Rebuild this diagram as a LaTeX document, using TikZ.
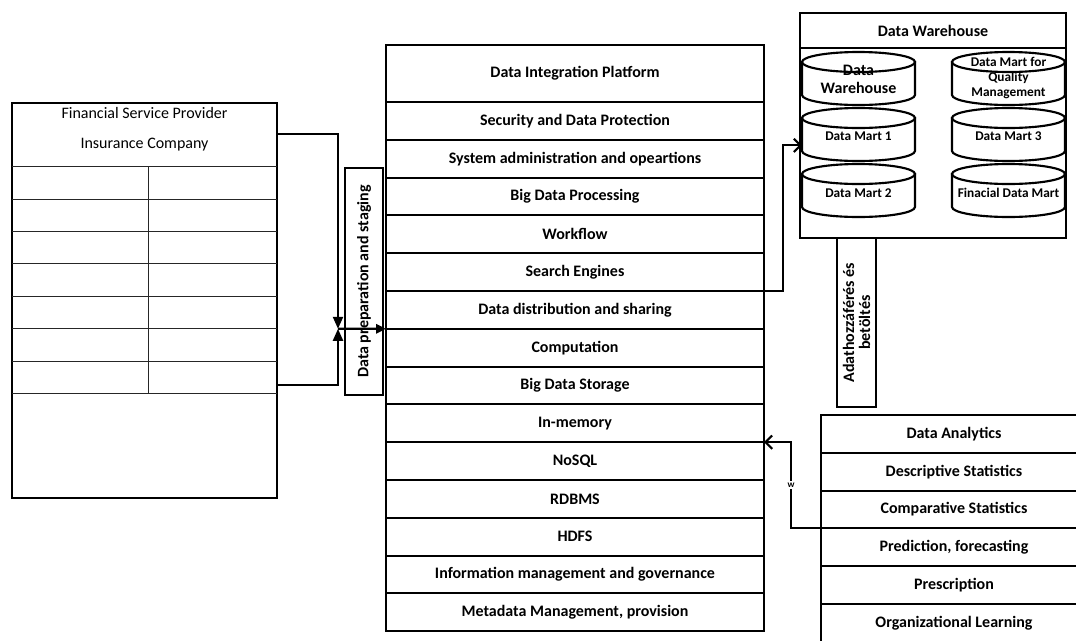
\documentclass[tikz,border=0pt]{standalone}
\usepackage{fontspec}
\setmainfont{Carlito}
\usetikzlibrary{arrows.meta}
\newcommand\mycyl[2]{%
  \filldraw[fill=white, line width=1.6pt] (#1,#2+10) -- (#1,#2+43) arc[start angle=180,end angle=360,x radius=42.375pt,y radius=7.5pt] -- (#1+113,#2+10) -- cycle;
  \filldraw[fill=white, line width=1.6pt] (#1+56.5,#2+10) ellipse [x radius=42.375pt, y radius=7.5pt];
}
\begin{document}
\begin{tikzpicture}[x=0.75pt,y=-0.75pt,
  lw/.style={line width=1.6pt},
  thinline/.style={line width=0.75pt, draw=black!85},
  bold12/.style={font=\fontsize{12}{14}\selectfont\bfseries},
  rowbox/.style={draw, line width=1.6pt, inner sep=0pt, outer sep=0pt, bold12, minimum width=283.5pt, minimum height=28.35pt},
  arow/.style={rowbox, minimum width=199.5pt, minimum height=28.35pt},
  cyltext/.style={inner sep=0pt, outer sep=0pt, minimum width=84.75pt, minimum height=39.75pt, align=center},
  barb/.style={-{Straight Barb[length=5pt,width=10pt]}},
  tri/.style={-{Triangle[length=9pt,width=7.5pt]}}
]
\useasboundingbox (0,0) rectangle (1076,640);
\fill[white] (0,0) rectangle (1076,640);
\clip (0,0) rectangle (1076,640);

% left box
\node[draw, lw, minimum width=198.75pt, minimum height=296.25pt, inner sep=0pt, outer sep=0pt] (fsp) at (144.5,300.5) {};
\draw[thinline] (12,166) -- (277,166);
\foreach \yy in {199,231,263,296,328,361,393} \draw[thinline] (12,\yy) -- (277,\yy);
\draw[thinline] (148,166) -- (148,393);
\node[font=\fontsize{12}{14}\selectfont] (fspt) at (144.5,113) {Financial Service Provider};
\node[font=\fontsize{12}{14}\selectfont] (insc) at (144.5,145) {Insurance Company};

% middle stack
\node[rowbox, minimum height=42.75pt] (m0) at (575,73.5) {Data Integration Platform};
\foreach \t [count=\i] in {Security and Data Protection, System administration and opeartions, Big Data Processing, Workflow, Search Engines, Data distribution and sharing, Computation, Big Data Storage, In-memory, NoSQL, RDBMS, HDFS, Information management and governance, {Metadata Management, provision}}
  \node[rowbox] (m\i) at (575,{102+37.8*(\i-0.5)}) {\t};

% data preparation box
\node[draw, lw, rotate=90, minimum width=170.25pt, minimum height=28.5pt, inner sep=0pt, bold12] (prep) at (364,281.5) {Data preparation and staging};

% connectors from left box
\coordinate (j) at (338,328.8);
\draw[lw, tri] ([yshift=-23.25pt]fsp.north east) -| (j);
\draw[lw, tri] ([yshift=84.75pt]fsp.south east) -| (j);
\draw[lw, -{Triangle[length=7.5pt,width=7pt]}] (j) -- (m6.south west);

% data warehouse
\node[draw, lw, minimum width=199.5pt, minimum height=168.75pt, inner sep=0pt, outer sep=0pt] (dw) at (933,125.5) {};
\draw[lw] (800,48) -- (1066,48);
\node[bold12] (dwt) at (933,31) {Data Warehouse};
\mycyl{802}{52}
\mycyl{802}{108}
\mycyl{802}{164}
\mycyl{952}{52}
\mycyl{952}{108}
\mycyl{952}{164}
\node[cyltext, font=\fontsize{12}{13.5}\selectfont\bfseries] (c1) at (858.5,79) {Data\\Warehouse};
\node[cyltext, font=\fontsize{10}{12}\selectfont\bfseries] (c2) at (858.5,136) {Data Mart 1};
\node[cyltext, font=\fontsize{10}{12}\selectfont\bfseries] (c3) at (858.5,193) {Data Mart 2};
\node[cyltext, font=\fontsize{10}{11.6}\selectfont\bfseries] (c4) at (1008.5,78) {Data Mart for\\Quality\\Management};
\node[cyltext, font=\fontsize{10}{12}\selectfont\bfseries] (c5) at (1008.5,136) {Data Mart 3};
\node[cyltext, font=\fontsize{10}{12}\selectfont\bfseries] (c6) at (1008.5,193) {Finacial Data Mart};

% access box
\node[draw, lw, rotate=90, minimum width=126.75pt, minimum height=29.25pt, inner sep=0pt, align=center, font=\fontsize{12}{12}\selectfont\bfseries] (acc) at (856.5,322.5) {Adathozzáférés és\\betöltés};

% search engines -> data mart 1
\draw[lw, barb] (m5.south east) -- ++(19,0) |- ([yshift=-7pt]c2.west);

% data analytics stack
\foreach \t [count=\i] in {Data Analytics, Descriptive Statistics, Comparative Statistics, {Prediction, forecasting}, Prescription, Organizational Learning}
  \node[arow] (a\i) at (954,{415+37.8*(\i-0.5)}) {\t};

% analytics -> stack
\draw[lw, barb] (a3.south west) -- ++(-30,0) |- (m10.north east);
\node[fill=white, font=\fontsize{7}{8}\selectfont\bfseries, inner sep=1.5pt] (wl) at (791,485) {w};
\end{tikzpicture}
\end{document}
